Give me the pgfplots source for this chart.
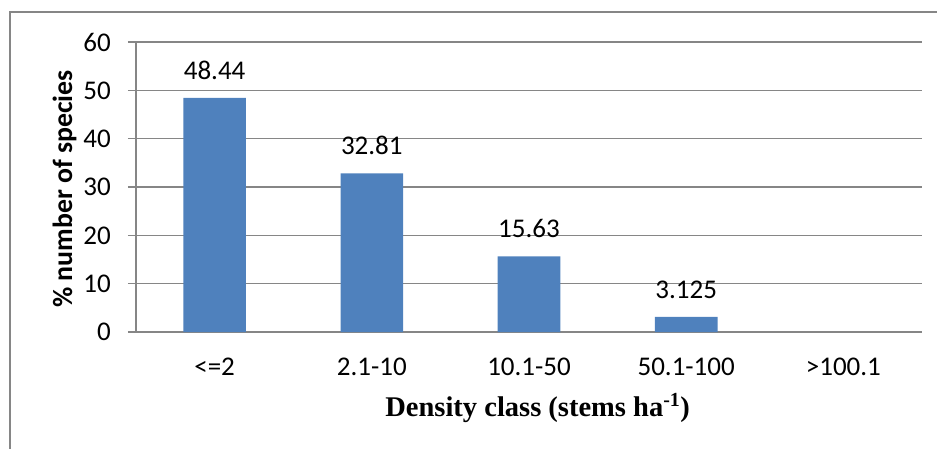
\documentclass[border=0pt]{standalone}
\usepackage{pgfplots}
\pgfplotsset{compat=1.18}
\usepackage{fontspec}
\setmainfont{Carlito}
\newfontfamily\timesfont{Liberation Serif}
\definecolor{barblue}{HTML}{4F81BD}
\definecolor{gridgray}{HTML}{868686}

\pgfplotstableread{
x  y
0  48.44
1  32.81
2  15.63
3  3.125
}\densitydata

\begin{document}
\begin{tikzpicture}[x=1pt,y=1pt]
\useasboundingbox (0,0) rectangle (937,-448);
% chart frame
\draw[gridgray, line width=1.6pt] (10,-460) -- (10,-12) -- (950,-12);
\begin{axis}[
  at={(136pt,-332pt)}, anchor=south west,
  scale only axis, width=786pt, height=290pt,
  xmin=-0.5, xmax=4.5, ymin=0, ymax=60,
  ytick={0,10,...,60},
  xtick={0,1,2,3,4},
  xticklabels={{<=2},{2.1-10},{10.1-50},{50.1-100},{>100.1}},
  axis x line*=bottom, axis y line*=left,
  axis line style={gridgray, line width=1.3pt, -},
  ymajorgrids,
  grid style={gridgray, line width=1.3pt},
  tick align=outside, major tick length=8pt,
  ytick style={gridgray, line width=1.3pt},
  xtick style={draw=none},
  /pgf/number format/assume math mode=true,
  tick label style={font=\fontsize{27pt}{32pt}\selectfont, inner sep=0pt},
  yticklabel style={anchor=east, xshift=-17pt},
  xticklabel style={anchor=base, yshift=-35pt},
  xlabel={\timesfont\bfseries Density class (stems ha\textsuperscript{-1})},
  xlabel style={at={(axis description cs:0.511,-0.262)}, anchor=center,
    font=\fontsize{28.5pt}{34pt}\selectfont},
  ylabel={\bfseries \% number of species},
  ylabel style={at={(axis description cs:-0.091,0.493)}, anchor=center,
    font=\fontsize{27.8pt}{33pt}\selectfont},
  nodes near coords={\pgfmathprintnumber[precision=3]{\pgfplotspointmeta}},
  every node near coord/.append style={font=\fontsize{27pt}{32pt}\selectfont,
    anchor=base, inner sep=0pt, yshift=18.6pt, text=black},
]
\addplot[ybar, bar width=62.6pt, fill=barblue, draw=none] table[x=x, y=y] {\densitydata};
\end{axis}
\end{tikzpicture}
\end{document}
